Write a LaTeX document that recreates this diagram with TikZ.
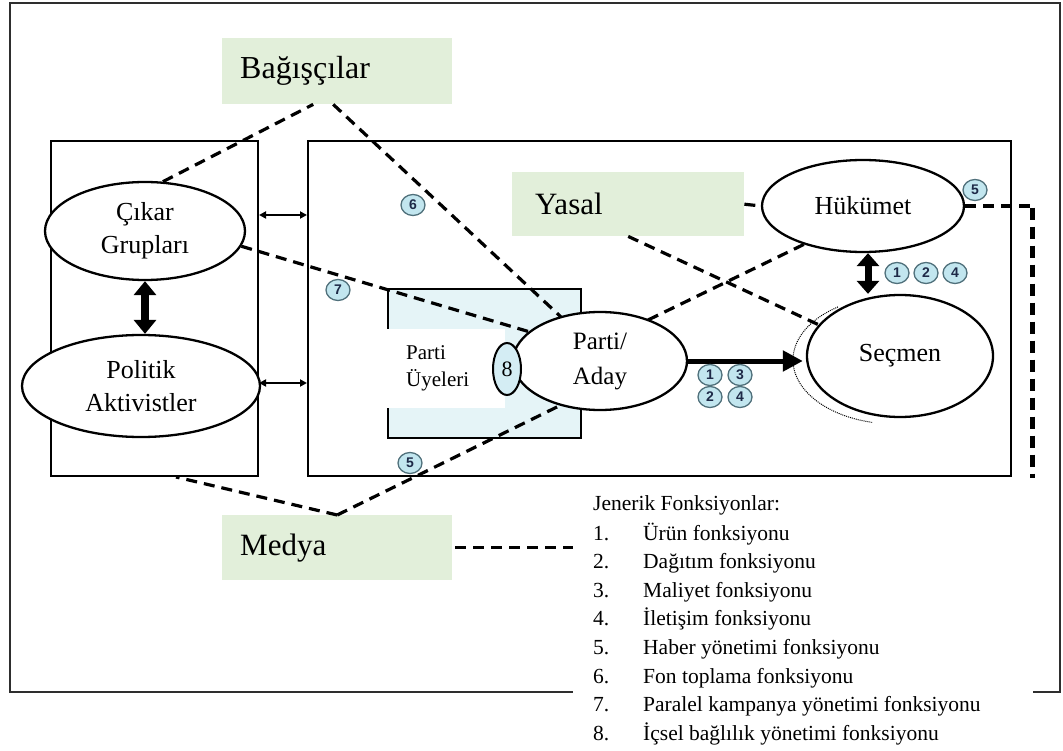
\documentclass[tikz,border=0pt]{standalone}
\usepackage{fontspec}
\setmainfont{Liberation Serif}
\newfontfamily\badgefont{Liberation Sans}
\usetikzlibrary{shapes.geometric,arrows.meta,calc}
\definecolor{labelgreen}{HTML}{E2EFDA}
\definecolor{memberblue}{HTML}{E5F4F7}
\definecolor{badgefill}{HTML}{C2E6EF}
\definecolor{badgeedge}{HTML}{50707B}
\definecolor{badgetext}{HTML}{1E2A48}
\definecolor{framegray}{HTML}{2E2E2E}
\begin{document}
\begin{tikzpicture}[x=1pt,y=-1pt,
  actor/.style={ellipse,draw,line width=2.3pt,fill=white,inner sep=0pt,align=center,
    font=\fontsize{26}{33}\selectfont},
  grouplabel/.style={rectangle,fill=labelgreen,anchor=north west,align=left,inner ysep=0pt},
  boxframe/.style={rectangle,draw,line width=2pt,anchor=north west,inner sep=0pt},
  influence/.style={line width=3.2pt,dash pattern=on 11pt off 7pt},
  thinarrow/.style={line width=2pt,{Triangle[length=7pt,width=7pt]}-{Triangle[length=7pt,width=7pt]}},
  badge/.style={ellipse,draw=badgeedge,line width=1.3pt,fill=badgefill,inner sep=0pt,
    minimum width=24pt,minimum height=21pt,text=badgetext,
    font=\badgefont\bfseries\fontsize{14}{14}\selectfont},
  legendtext/.style={anchor=base west,inner sep=0pt,font=\fontsize{21.5}{26}\selectfont}
]
\useasboundingbox (0,0) rectangle (1063,751);

% outer frame
\draw[framegray,line width=2.5pt] (10,3) rectangle (1060,692);

% party environment boxes
\node[boxframe,minimum width=207pt,minimum height=335pt] (leftbox) at (50,140) {};
\node[boxframe,minimum width=703pt,minimum height=335pt] (mainbox) at (307,140) {};
\node[boxframe,fill=memberblue,minimum width=193pt,minimum height=149pt] (members) at (387,288) {};
\node[rectangle,fill=white,anchor=north west,inner sep=0pt,minimum width=119pt,minimum height=79pt] (memberpatch) at (385.5,329) {};
\node[anchor=west,align=left,inner sep=0pt,font=\fontsize{21}{27}\selectfont] (membertext) at (406,368) {Parti\\Üyeleri};

% actors
\node[actor,minimum width=200pt,minimum height=98pt] (cikar) at (145,231) {Çıkar\\Grupları};
\node[actor,minimum width=238pt,minimum height=102pt] (politik) at (141,386) {Politik\\Aktivistler};
\node[actor,minimum width=202pt,minimum height=92pt] (hukumet) at (863,206) {Hükümet};

% outer voter boundary
\draw[line width=1pt,densely dotted] ([shift={(-124:102 and 64)}]895,360) arc[start angle=-124,end angle=-257,x radius=102,y radius=64];
\node[actor,minimum width=186pt,minimum height=122pt] (secmen) at (900,356) {Seçmen};

% outside groups
\node[grouplabel,minimum width=230pt,minimum height=66pt,inner xsep=18pt,text width=194pt,
  font=\fontsize{32}{36}\selectfont] (bag) at (222,38) {Bağışçılar};
\node[grouplabel,minimum width=232pt,minimum height=64pt,inner xsep=23pt,text width=186pt,
  font=\fontsize{31}{36}\selectfont] (yasal) at (512,172) {Yasal};
\node[grouplabel,minimum width=230pt,minimum height=65pt,inner xsep=18pt,text width=194pt,
  font=\fontsize{31}{36}\selectfont] (medya) at (222,515) {Medya};

% legend area
\node[rectangle,fill=white,anchor=north west,inner sep=0pt,minimum width=460pt,minimum height=273pt] (legendbg) at (573,478) {};

% points on the party ellipse where the influence lines arrive
\coordinate (partic) at (600,361);
\coordinate (pDonor) at ($(partic)+(-39,-44)$);
\coordinate (pGroup) at ($(partic)+(-70,-29)$);
\coordinate (pGov) at ($(partic)+(48,-41)$);
\coordinate (pMedia) at ($(partic)+(-39,44)$);

% dashed influence lines
\draw[influence] (cikar.70) -- ($(bag.south)+(-24,0)$);
\draw[influence] ($(bag.south)+(-4,0)$) -- (pDonor);
\draw[influence] (cikar.-9) -- (pGroup);
\draw[influence] (yasal.south) -- (secmen.159);
\draw[influence] (hukumet.213) -- (pGov);
\draw[influence] (yasal.east) -- (hukumet.west);
\coordinate (railx) at (1032,0);
\draw[influence] (hukumet.east) -- (hukumet.east -| railx);
\draw[line width=5pt,dash pattern=on 12pt off 7pt] ([yshift=-1.6pt]hukumet.east -| railx) -- (railx |- legendbg.north);
\draw[influence] (medya.north) -- ($(leftbox.south)+(21.5,0)$);
\draw[influence] (medya.north) -- (pMedia);
\draw[influence] ([xshift=3pt]medya.east) -- (medya.east -| legendbg.west);

% party node and its internal commitment marker
\node[actor,minimum width=174pt,minimum height=98pt,font=\fontsize{25}{35}\selectfont] (parti) at (partic) {Parti/\\Aday};
\node[ellipse,draw,line width=2pt,fill=badgefill!70,inner sep=0pt,minimum width=28pt,minimum height=52pt,
  font=\fontsize{22}{22}\selectfont] (sekiz) at (507,369) {8};

% solid connectors
\draw[line width=8pt,{Triangle[length=14pt,width=22pt]}-{Triangle[length=14pt,width=22pt]}] (cikar.south) -- (cikar.south |- politik.north);
\coordinate (linkx) at (868,0);
\draw[line width=7pt,{Triangle[length=13pt,width=22pt]}-{Triangle[length=13pt,width=22pt]}] (hukumet.south -| linkx) -- (secmen.north -| linkx);
\draw[line width=5pt,-{Triangle[length=20pt,width=20pt]}] (parti.east) -- ([xshift=-3pt]parti.east -| secmen.west);
\coordinate (rowA) at (0,215);
\coordinate (rowB) at (0,383);
\draw[thinarrow] (rowA -| leftbox.east) -- (rowA -| mainbox.west);
\draw[thinarrow] (rowB -| leftbox.east) -- (rowB -| mainbox.west);

% function badges
\node[badge] (b6) at (413,205) {6};
\node[badge] (b7) at (338,290) {7};
\node[badge] (b5a) at (410,463) {5};
\node[badge] (b5b) at (975,190) {5};
\node[badge] (h1) at (897,273) {1};
\node[badge] (h2) at (926,273) {2};
\node[badge] (h4) at (955,273) {4};
\node[badge] (p1) at (710,375) {1};
\node[badge] (p3) at (740,375) {3};
\node[badge] (p2) at (710,397) {2};
\node[badge] (p4) at (740,397) {4};

% legend
\node[legendtext] (lhead) at (593,510) {Jenerik Fonksiyonlar:};
\foreach \t [count=\i] in {Ürün fonksiyonu,Dağıtım fonksiyonu,Maliyet fonksiyonu,İletişim fonksiyonu,
  Haber yönetimi fonksiyonu,Fon toplama fonksiyonu,Paralel kampanya yönetimi fonksiyonu,
  İçsel bağlılık yönetimi fonksiyonu}{
  \node[legendtext] (num\i) at (593,{540+(\i-1)*28.6}) {\i.};
  \node[legendtext] (item\i) at (643,{540+(\i-1)*28.6}) {\t};
}
\end{tikzpicture}
\end{document}
